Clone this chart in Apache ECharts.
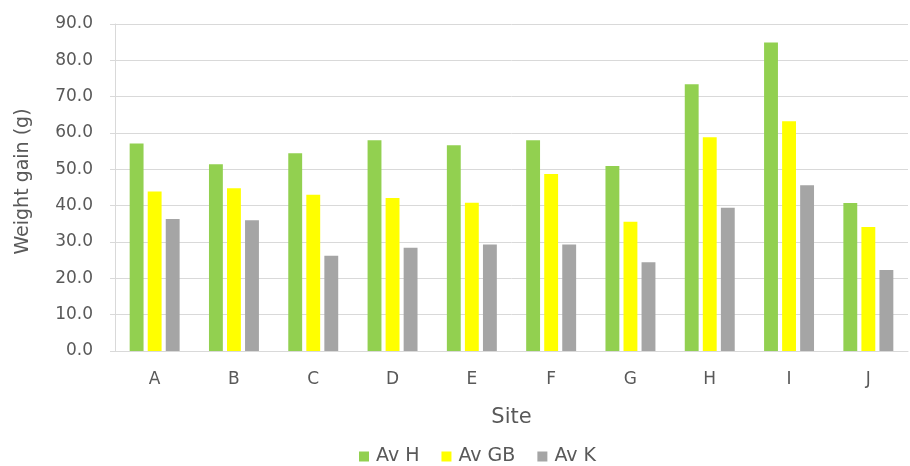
<!DOCTYPE html>
<html>
<head>
<meta charset="utf-8">
<script src="https://cdn.jsdelivr.net/npm/echarts@6/dist/echarts.min.js"></script>
<style>html,body{margin:0;padding:0;background:#fff}#c{width:910px;height:466px}</style>
</head>
<body>
<div id="c"></div>
<script>
const categories = ['A','B','C','D','E','F','G','H','I','J'];
const avH  = [57.1, 51.4, 54.4, 58.0, 56.6, 58.0, 50.9, 73.4, 84.9, 40.7];
const avGB = [43.9, 44.8, 43.0, 42.1, 40.8, 48.7, 35.6, 58.8, 63.2, 34.1];
const avK  = [36.3, 36.0, 26.2, 28.4, 29.3, 29.3, 24.4, 39.4, 45.6, 22.3];
const seriesNames = ['Av H', 'Av GB', 'Av K'];

const font = 'DejaVu Sans';
const txt = '#595959';
const chart = echarts.init(document.getElementById('c'));
chart.setOption({
  animation: false,
  textStyle: { fontFamily: font },
  grid: { left: 115, right: 2, top: 24, bottom: 115 },
  legend: {
    left: 354, top: 442,
    itemWidth: 10, itemHeight: 10, itemGap: 22,
    icon: 'rect',
    textStyle: { fontFamily: font, fontSize: 19, color: txt, padding: [0, 0, 0, 2] },
    data: seriesNames
  },
  xAxis: {
    type: 'category', data: categories,
    name: 'Site', nameLocation: 'middle', nameGap: 56,
    nameTextStyle: { fontFamily: font, fontSize: 21, color: txt },
    axisLine: { lineStyle: { color: '#D9D9D9' } },
    axisTick: { show: false },
    axisLabel: { fontFamily: font, fontSize: 17, color: txt, margin: 20 }
  },
  yAxis: {
    type: 'value', min: 0, max: 90, interval: 10,
    name: 'Weight gain (g)', nameLocation: 'middle', nameGap: 82, nameRotate: 90,
    nameTextStyle: { fontFamily: font, fontSize: 19, color: txt, padding: [0, 0, 0, 12] },
    axisLine: { show: true, lineStyle: { color: '#D9D9D9' } },
    axisTick: { show: true, length: 5, lineStyle: { color: '#D9D9D9' } },
    axisLabel: { fontFamily: font, fontSize: 17, color: txt, margin: 22, formatter: v => v.toFixed(1) },
    splitLine: { lineStyle: { color: '#D9D9D9' } }
  },
  series: [
    { name: seriesNames[0], type: 'bar', data: avH, itemStyle: { color: '#92D050' }, barGap: '30%', barCategoryGap: '37%' },
    { name: seriesNames[1], type: 'bar', data: avGB, itemStyle: { color: '#FFFF00' } },
    { name: seriesNames[2], type: 'bar', data: avK, itemStyle: { color: '#A5A5A5' } }
  ]
});
</script>
</body>
</html>
